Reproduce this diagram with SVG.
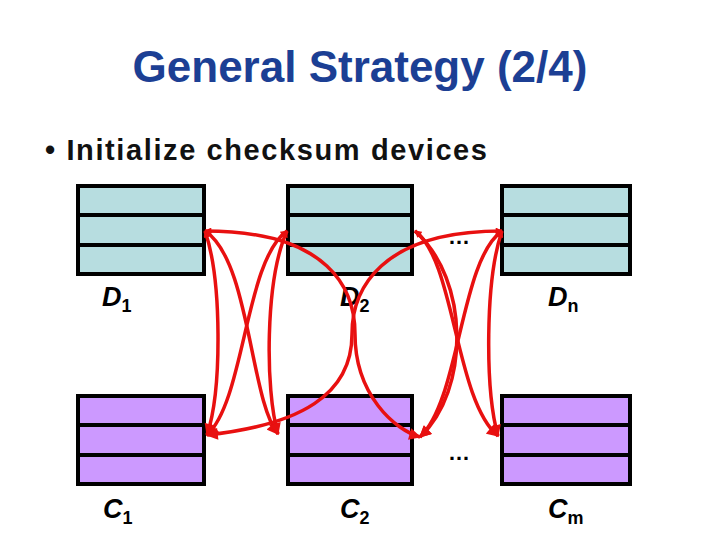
<svg xmlns="http://www.w3.org/2000/svg" width="720" height="540" viewBox="0 0 720 540">
<style>
.t{font-family:"Liberation Sans",Arial,sans-serif;font-weight:bold}
.d{fill:#b7dde0;stroke:#000;stroke-width:4}
.c{fill:#cc99ff;stroke:#000;stroke-width:4}
.l{stroke:#000;stroke-width:4}
.e{fill:none;stroke:#e81010;stroke-width:3.5;marker-end:url(#a);marker-start:url(#s)}
.lab{font-family:"Liberation Sans",Arial,sans-serif;font-weight:bold;font-style:italic;font-size:27px}
.sub{font-style:normal;font-size:18px}
</style>
<defs><marker id="a" viewBox="0 0 10 10" refX="9" refY="5" markerWidth="14" markerHeight="12" orient="auto" markerUnits="userSpaceOnUse"><path d="M0,0L10,5L0,10z" fill="#e81010"/></marker>
<marker id="s" viewBox="0 0 10 10" refX="1" refY="5" markerWidth="8" markerHeight="7" orient="auto" markerUnits="userSpaceOnUse"><path d="M10,0L0,5L10,10z" fill="#e81010"/></marker></defs>
<text class="t" x="360" y="82" text-anchor="middle" font-size="44" fill="#1c3f94">General Strategy (2/4)</text>
<text class="t" x="45" y="160" font-size="29" fill="#111" textLength="442">• Initialize checksum devices</text>
<g id="D1"><rect class="d" x="78" y="186" width="126" height="88"/><line class="l" x1="78" y1="215" x2="204" y2="215"/><line class="l" x1="78" y1="245" x2="204" y2="245"/><text class="lab" x="102" y="306">D<tspan class="sub" dy="6">1</tspan></text></g>
<g id="D2"><rect class="d" x="288" y="186" width="124" height="88"/><line class="l" x1="288" y1="215" x2="412" y2="215"/><line class="l" x1="288" y1="245" x2="412" y2="245"/><text class="lab" x="340" y="306">D<tspan class="sub" dy="6">2</tspan></text></g>
<g id="Dn"><rect class="d" x="502" y="186" width="128" height="88"/><line class="l" x1="502" y1="215" x2="630" y2="215"/><line class="l" x1="502" y1="245" x2="630" y2="245"/><text class="lab" x="548" y="306">D<tspan class="sub" dy="6">n</tspan></text></g>
<g id="C1"><rect class="c" x="78" y="396" width="126" height="88"/><line class="l" x1="78" y1="425" x2="204" y2="425"/><line class="l" x1="78" y1="455" x2="204" y2="455"/><text class="lab" x="103" y="518">C<tspan class="sub" dy="6">1</tspan></text></g>
<g id="C2"><rect class="c" x="288" y="396" width="124" height="88"/><line class="l" x1="288" y1="425" x2="412" y2="425"/><line class="l" x1="288" y1="455" x2="412" y2="455"/><text class="lab" x="340" y="518">C<tspan class="sub" dy="6">2</tspan></text></g>
<g id="Cm"><rect class="c" x="502" y="396" width="128" height="88"/><line class="l" x1="502" y1="425" x2="630" y2="425"/><line class="l" x1="502" y1="455" x2="630" y2="455"/><text class="lab" x="548" y="518">C<tspan class="sub" dy="6">m</tspan></text></g>
<text class="t" x="448" y="244" font-size="22">…</text>
<text class="t" x="448" y="460" font-size="22">…</text>
<g id="connectors">
<path class="e" d="M205,231 C222,280 222,390 207,435"/>
<path class="e" d="M205,231 C250,260 250,400 278,434"/>
<path class="e" d="M287,231 C245,260 245,400 207,435"/>
<path class="e" d="M287,231 C265,280 265,390 278,434"/>
<path class="e" d="M415,231 C470,280 470,390 420,437"/>
<path class="e" d="M415,231 C455,260 455,400 498,436"/>
<path class="e" d="M502,231 C460,260 460,400 420,437"/>
<path class="e" d="M502,231 C485,280 485,390 498,436"/>
<path class="e" d="M205,231 C330,231 355,290 355,334 C355,395 395,430 420,437"/>
<path class="e" d="M502,231 C380,231 352,290 352,334 C352,395 300,425 207,435"/>
</g>
</svg>
